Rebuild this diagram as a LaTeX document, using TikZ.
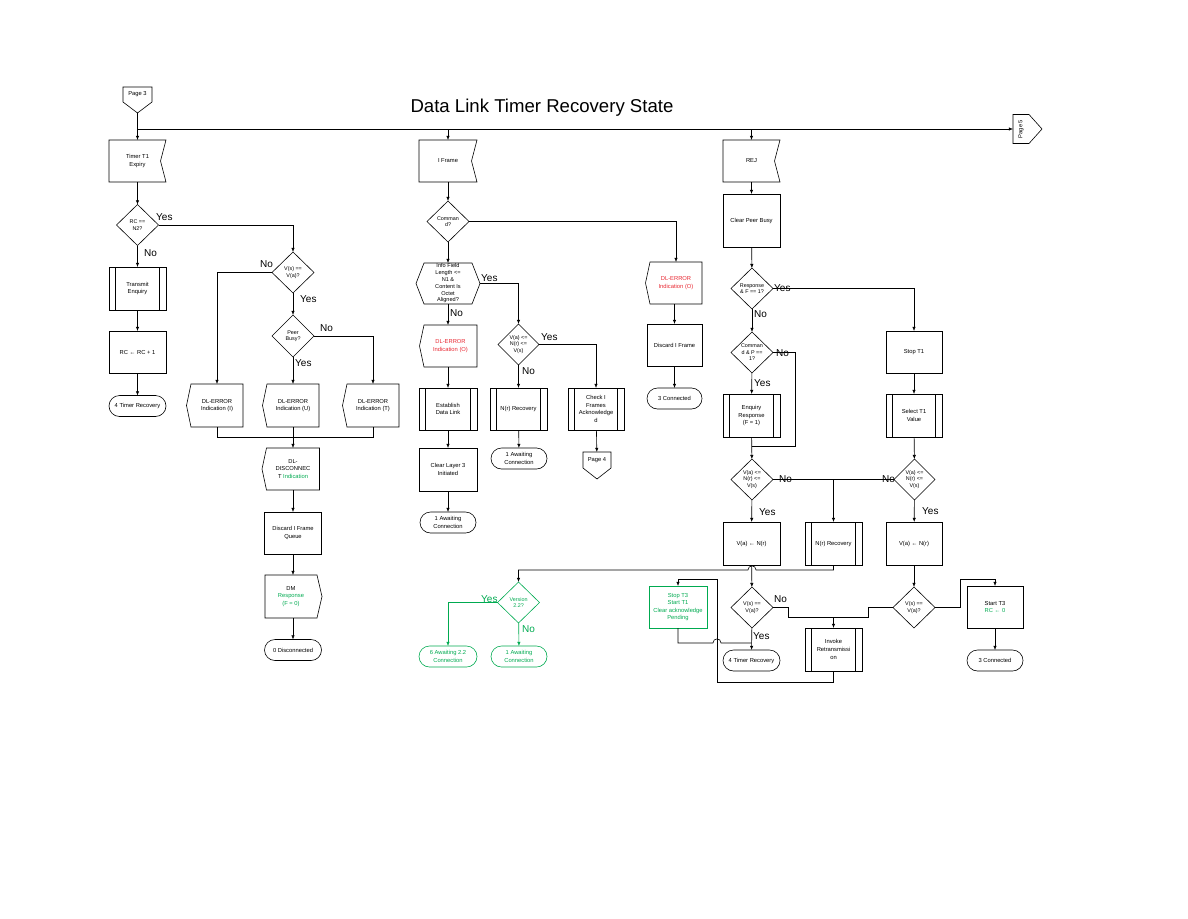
\documentclass[tikz,border=0pt]{standalone}
\usepackage{fontspec}
\setmainfont{Liberation Sans}
\usepackage{graphicx}
\usetikzlibrary{shapes.geometric,arrows.meta}
\definecolor{vgreen}{RGB}{0,170,80}
\definecolor{vred}{RGB}{232,40,50}
\tikzset{
  base/.style={font=\fontsize{5.8}{7.6}\selectfont, align=center, inner sep=0pt, outer sep=0pt},
  box/.style={base, draw, line width=0.6pt, minimum width=57pt, minimum height=42pt},
  predef/.style={box, path picture={\draw[line width=0.5pt] ([xshift=6.5pt]path picture bounding box.north west) -- ([xshift=6.5pt]path picture bounding box.south west) ([xshift=-6.5pt]path picture bounding box.north east) -- ([xshift=-6.5pt]path picture bounding box.south east);}},
  term/.style={base, draw, line width=0.6pt, rounded corners=10.5pt, minimum width=57pt, minimum height=21pt},
  ghost/.style={base, minimum width=52pt, minimum height=42pt},
  dec/.style={base, draw, line width=0.6pt, diamond, minimum width=42pt, minimum height=41pt, font=\fontsize{5.4}{6.6}\selectfont},
  shp/.style={line width=0.6pt, line join=miter},
  lab/.style={font=\fontsize{10}{12}\selectfont, inner sep=0pt, anchor=west},
  link/.style={line width=0.6pt},
  flow/.style={link, -{Latex[length=4.2pt,width=3.4pt]}},
}
\newcommand\OutlineIn[1]{\draw[shp] (#1.north west) -- (#1.north east) -- ([xshift=-5.5pt]#1.east) -- (#1.south east) -- (#1.south west) -- cycle;}
\newcommand\OutlineL[1]{\draw[shp] (#1.north west) -- (#1.north east) -- (#1.south east) -- (#1.south west) -- ([xshift=-4.5pt]#1.west) -- cycle;}
\newcommand\OutlineR[1]{\draw[shp] (#1.north west) -- (#1.north east) -- ([xshift=5pt]#1.east) -- (#1.south east) -- (#1.south west) -- cycle;}
\newcommand\OutlinePg[1]{\draw[shp] (#1.north west) -- (#1.north east) -- (#1.south east) -- ([yshift=-11pt]#1.south) -- (#1.south west) -- cycle;}
\newcommand\OutlinePgR[1]{\draw[shp] (#1.north west) -- (#1.north east) -- ([xshift=13pt]#1.east) -- (#1.south east) -- (#1.south west) -- cycle;}
\begin{document}
\begin{tikzpicture}[x=1pt,y=-1pt]
\useasboundingbox (0,0) rectangle (1188,918);
\node[font=\fontsize{18.6}{22}\selectfont, anchor=base, inner sep=0pt] (title) at (542,112) {Data Link Timer Recovery State};

% ---------- column 1
\node[ghost, minimum width=29pt, minimum height=15pt] (p3) at (137.5,94.5) {Page 3};
\OutlinePg{p3}
\coordinate (p3tip) at ([yshift=-11pt]p3.south);
\node[ghost, minimum width=57pt] (t1exp) at (137.5,161) {Timer T1\\Expiry};
\OutlineIn{t1exp}
\node[dec] (d1) at (137.5,225) {RC ==\\N2?};
\node[predef, minimum height=43pt] (txenq) at (137.5,288.5) {Transmit\\Enquiry};
\node[box] (rcinc) at (137.5,352) {RC ← RC + 1};
\node[term] (tr4a) at (137.5,406) {4 Timer Recovery};

% ---------- column 2
\node[dec] (d2) at (293,272.5) {V(s) ==\\V(a)?};
\node[dec, minimum height=42pt] (d3) at (293,336) {Peer\\Busy?};
\node[ghost, minimum height=43pt] (errI) at (217,405.5) {DL-ERROR\\Indication (I)};
\OutlineL{errI}
\node[ghost, minimum height=43pt] (errU) at (293,405.5) {DL-ERROR\\Indication (U)};
\OutlineL{errU}
\node[ghost, minimum height=43pt] (errT) at (373,405.5) {DL-ERROR\\Indication (T)};
\OutlineL{errT}
\node[ghost, minimum width=53pt] (disc) at (293,469) {DL-\\DISCONNEC\\T \textcolor{vgreen}{Indication}};
\OutlineL{disc}
\node[box] (dq) at (293,533) {Discard I Frame\\Queue};
\node[ghost, minimum height=43pt] (dm) at (291,596.5) {DM\\\textcolor{vgreen}{Response}\\\textcolor{vgreen}{(F = 0)}};
\OutlineR{dm}
\node[term] (disc0) at (293,650) {0 Disconnected};

% ---------- column 3
\node[ghost, minimum width=58pt] (iframe) at (448,161) {I Frame};
\OutlineIn{iframe}
\node[dec] (d4) at (448,221.5) {Comman\\d?};
\node[ghost, minimum width=64pt, minimum height=41pt, font=\fontsize{5.6}{6.8}\selectfont] (hex) at (448,283.5) {Info Field\\Length <=\\N1 \&\\Content Is\\Octet\\Aligned?};
\draw[shp] (hex.west) -- ([xshift=8pt]hex.north west) -- ([xshift=-8pt]hex.north east) -- (hex.east) -- ([xshift=-8pt]hex.south east) -- ([xshift=8pt]hex.south west) -- cycle;
\node[ghost, minimum width=53pt, text=vred] (errO1) at (450.5,346) {DL-ERROR\\Indication (O)};
\OutlineL{errO1}
\node[predef, minimum width=58pt] (estab) at (448,409) {Establish\\Data Link};
\node[box, minimum width=58pt, minimum height=43pt] (clr3) at (448,469.5) {Clear Layer 3\\Initiated};
\node[term, minimum width=56pt] (aw1a) at (448,522.5) {1 Awaiting\\Connection};

% ---------- column 4
\node[dec, minimum width=41pt] (d5) at (518.5,344.5) {V(a) <=\\N(r) <=\\V(s)};
\node[predef] (nrr1) at (518.5,409) {N(r) Recovery};
\node[term, minimum width=56pt] (aw1b) at (519,458.5) {1 Awaiting\\Connection};
\node[predef, minimum width=56pt] (chk) at (596,409) {Check I\\Frames\\Acknowledge\\d};
\node[ghost, minimum width=28pt, minimum height=16pt] (p4) at (597,460) {Page 4};
\OutlinePg{p4}

% ---------- column 5
\node[ghost, text=vred] (errO2) at (676,283) {DL-ERROR\\Indication (O)};
\OutlineL{errO2}
\node[box, minimum width=55pt] (dif) at (674.5,345) {Discard I Frame};
\node[term, minimum width=55pt] (conn3a) at (674.5,398.5) {3 Connected};

% ---------- column 6
\node[ghost, minimum width=57pt] (rej) at (751.5,161) {REJ};
\OutlineIn{rej}
\node[box, minimum height=53pt] (cpb) at (751.5,220.5) {Clear Peer Busy};
\node[dec] (d6) at (752,288.5) {Response\\\& F == 1?};
\node[dec] (d7) at (752,352.5) {Comman\\d \& P ==\\1?};
\node[predef, minimum height=43pt] (enq) at (751.5,415.5) {Enquiry\\Response\\(F = 1)};
\node[dec] (d8) at (752,479.5) {V(a) <=\\N(r) <=\\V(s)};
\node[box, minimum height=43pt] (van1) at (751.5,543.5) {V(a) ← N(r)};
\node[predef, minimum height=43pt] (nrr2) at (833.5,543.5) {N(r) Recovery};
\node[dec] (d9) at (752,607.5) {V(s) ==\\V(a)?};
\node[term] (tr4b) at (751.5,660.5) {4 Timer Recovery};
\node[box, minimum width=58pt, draw=vgreen, text=vgreen] (stopt3) at (678,607) {Stop T3\\Start T1\\Clear acknowledge\\Pending};
\node[predef, minimum height=43pt] (inv) at (833.5,649.5) {Invoke\\Retransmissi\\on};

% ---------- column 7
\node[box, minimum width=56pt] (stopt1) at (914,352) {Stop T1};
\node[predef, minimum width=56pt, minimum height=43pt] (selt1) at (914,415.5) {Select T1\\Value};
\node[dec, minimum width=41pt] (d10) at (914.5,479.5) {V(a) <=\\N(r) <=\\V(s)};
\node[box, minimum width=56pt, minimum height=43pt] (van2) at (914,543.5) {V(a) ← N(r)};
\node[dec] (d11) at (914,607.5) {V(s) ==\\V(a)?};
\node[box, minimum width=56pt] (startt3) at (995,607) {Start T3\\\textcolor{vgreen}{RC ← 0}};
\node[term, minimum width=56pt] (conn3b) at (995,660.5) {3 Connected};

% ---------- version branch (green)
\node[dec, draw=vgreen, text=vgreen] (dver) at (518.5,602.5) {Version\\2.2?};
\node[term, minimum width=58pt, draw=vgreen, text=vgreen] (aw6) at (448,656.5) {6 Awaiting 2.2\\Connection};
\node[term, minimum width=56pt, draw=vgreen, text=vgreen] (aw1c) at (519,656.5) {1 Awaiting\\Connection};

% ---------- Page 5
\node[ghost, minimum width=16pt, minimum height=29pt] (p5) at (1021,129) {\rotatebox{90}{Page 5}};
\OutlinePgR{p5}

% ================= connectors
\coordinate (j0) at (137.5,129);
\draw[flow] (p3tip) -- (t1exp);
\draw[flow] (j0) -- (p5);
\draw[flow] (j0 -| iframe) -- (iframe);
\draw[flow] (j0 -| rej) -- (rej);

\draw[flow] (t1exp) -- (d1);
\draw[flow] (d1) -- (txenq);
\draw[flow] (d1.east) -| (d2);
\draw[flow] (txenq) -- (rcinc);
\draw[flow] (rcinc) -- (tr4a);

\draw[flow] (d2.west) -| (errI);
\draw[flow] (d2) -- (d3);
\draw[flow] (d3) -- (errU);
\draw[flow] (d3.east) -| (errT);
\coordinate (mrg) at (293,437);
\draw[link] (errI.south) |- (errT.south |- mrg) -- (errT.south);
\draw[flow] (errU) -- (disc);
\draw[flow] (disc) -- (dq);
\draw[flow] (dq.south) -- (dq.south |- dm.north);
\draw[flow] (disc0.north |- dm.south) -- (disc0);

\draw[flow] (iframe) -- (d4);
\draw[flow] (d4) -- (hex);
\draw[flow] (d4.east) -| (errO2);
\draw[flow] (hex.east) -| (d5);
\draw[flow] (hex.south) -- (hex.south |- errO1.north);
\draw[flow] (estab.north |- errO1.south) -- (estab);
\draw[flow] (estab) -- (clr3);
\draw[flow] (clr3) -- (aw1a);
\draw[flow] (d5) -- (nrr1);
\draw[flow] (d5.east) -| (chk);
\draw[flow] (nrr1) -- (aw1b);
\draw[flow] (chk) -- (p4);
\draw[flow] (dif.north |- errO2.south) -- (dif);
\draw[flow] (dif) -- (conn3a);

\draw[flow] (rej) -- (cpb);
\draw[flow] (cpb) -- (d6);
\draw[flow] (d6) -- (d7);
\draw[flow] (d6.east) -| (stopt1);
\draw[flow] (d7) -- (enq);
\coordinate (j1) at (751.5,446);
\draw[link] (d7.east) -- ++(22,0) |- (j1);
\draw[flow] (enq) -- (d8);
\draw[flow] (d8) -- (van1);
\draw[link] (d8.east) -- (d10.west);
\draw[flow] (d8.east -| nrr2) -- (nrr2);
\draw[flow] (stopt1) -- (selt1);
\draw[flow] (selt1) -- (d10);
\draw[flow] (d10) -- (van2);
\draw[flow] (van1) -- (d9);
\draw[flow] (van2) -- (d11);
\draw[flow] (nrr2.south) -- ++(0,5) -- (756,570) .. controls (756,564.5) and (748,564.5) .. (748,570) -| (dver);
\draw[flow] (d9) -- (tr4b);
\coordinate (j2) at (833.5,617);
\draw[link] (d9.east) -- ++(15,0) |- (j2);
\draw[link] (d11.west) -- ++(-25,0) |- (j2);
\draw[flow] (j2) -- (inv);
\draw[flow] (d11.east) -- ++(25,0) -- ++(0,-28.5) -| (startt3);
\draw[flow] (startt3) -- (conn3b);
\draw[flow] (inv.south) -- ++(0,11) -- (717,682) -- (717,579) -| (stopt3);
\coordinate (j3) at (751.5,643);
\draw[link] (stopt3.south) -- ++(0,15) -- (713,643) .. controls (713,637.5) and (721,637.5) .. (721,643) -- (j3);

\draw[flow, vgreen] (dver.west) -| (aw6);
\draw[flow, vgreen] (dver) -- (aw1c);

% ================= Yes / No labels
\node[lab] at (156,217) {Yes};
\node[lab] at (144,253) {No};
\node[lab] at (260,264) {No};
\node[lab] at (300,299) {Yes};
\node[lab] at (320,328) {No};
\node[lab] at (295,363) {Yes};
\node[lab] at (481,278) {Yes};
\node[lab] at (450,313) {No};
\node[lab] at (541,337) {Yes};
\node[lab] at (522,371) {No};
\node[lab] at (774,288) {Yes};
\node[lab] at (754,314) {No};
\node[lab] at (776,353) {No};
\node[lab] at (754,383) {Yes};
\node[lab] at (779,479) {No};
\node[lab] at (759,512) {Yes};
\node[lab] at (882,479) {No};
\node[lab] at (922,511) {Yes};
\node[lab] at (774,599) {No};
\node[lab] at (753,636) {Yes};
\node[lab, text=vgreen] at (481,599) {Yes};
\node[lab, text=vgreen] at (522,629) {No};
\end{tikzpicture}
\end{document}
